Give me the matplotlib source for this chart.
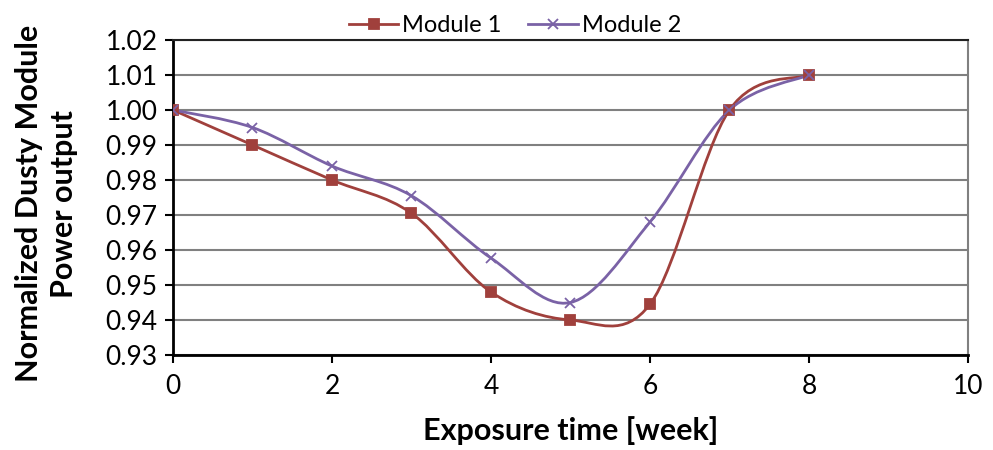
import numpy as np
import matplotlib
matplotlib.use("Agg")
import matplotlib.pyplot as plt
from matplotlib.path import Path
from matplotlib.patches import PathPatch

plt.rcParams["font.family"] = ["Lato", "DejaVu Sans"]

weeks = [0, 1, 2, 3, 4, 5, 6, 7, 8]
module_1 = [1.000, 0.990, 0.980, 0.9705, 0.948, 0.940, 0.9445, 1.000, 1.010]
module_2 = [1.000, 0.995, 0.984, 0.9755, 0.9577, 0.945, 0.968, 1.000, 1.010]

RED = "#A0403C"
PURPLE = "#7A62A6"


def smooth_path(x, y):
    # Bezier segments through every point (Catmull-Rom style, like spreadsheet "smoothed line")
    pts = np.column_stack([x, y]).astype(float)
    n = len(pts)
    verts = [pts[0]]
    codes = [Path.MOVETO]
    for i in range(n - 1):
        p0 = pts[max(i - 1, 0)]
        p1 = pts[i]
        p2 = pts[i + 1]
        p3 = pts[min(i + 2, n - 1)]
        c1 = p1 + (p2 - p0) / 6.0
        c2 = p2 - (p3 - p1) / 6.0
        verts += [c1, c2, p2]
        codes += [Path.CURVE4] * 3
    return Path(verts, codes)


fig = plt.figure(figsize=(9.93, 4.5), dpi=100)
ax = fig.add_axes([0.1742, 0.2111, 0.8006, 0.70])

for ys, color, marker, ms, label in [
    (module_1, RED, "s", 7, "Module 1"),
    (module_2, PURPLE, "x", 7, "Module 2"),
]:
    ax.add_patch(PathPatch(smooth_path(weeks, ys), fill=False, edgecolor=color,
                           lw=2.0, zorder=3))
    ax.plot(weeks, ys, ls="none", marker=marker, ms=ms, color=color,
            mew=1.3, zorder=4)
    ax.plot([], [], color=color, lw=2.0, marker=marker, ms=ms, mew=1.3, label=label)

ax.set_xlim(0, 10)
ax.set_ylim(0.93, 1.02)
ax.set_xticks(range(0, 11, 2))
ax.set_yticks(np.arange(0.93, 1.0201, 0.01))
ax.yaxis.set_major_formatter(matplotlib.ticker.FormatStrFormatter("%.2f"))
ax.grid(axis="y", color="#808080", lw=1.5)
ax.set_axisbelow(True)

ax.tick_params(axis="both", direction="out", length=6, width=1.5,
               labelsize=19, color="black")
ax.tick_params(axis="x", pad=8)
ax.tick_params(axis="y", pad=5)
for side in ["left", "bottom"]:
    ax.spines[side].set_linewidth(2.0)
    ax.spines[side].set_color("black")
ax.spines["top"].set_linewidth(1.5)
ax.spines["top"].set_color("#222222")
ax.spines["right"].set_linewidth(1.5)
ax.spines["right"].set_color("#808080")

ax.set_xlabel("Exposure time [week]", fontsize=22, fontweight="bold", labelpad=12)
fig.text(0.047, 0.547, "Normalized Dusty Module\nPower output", fontsize=22,
         fontweight="bold", rotation=90, ha="center", va="center",
         multialignment="center", linespacing=1.3)

ax.legend(loc="lower center", bbox_to_anchor=(0.43, 1.005), ncol=2, frameon=False,
          fontsize=17, handlelength=2.1, handletextpad=0.15, columnspacing=1.15,
          borderaxespad=0.0, borderpad=0.1)

fig.savefig("out.png", dpi=100)
